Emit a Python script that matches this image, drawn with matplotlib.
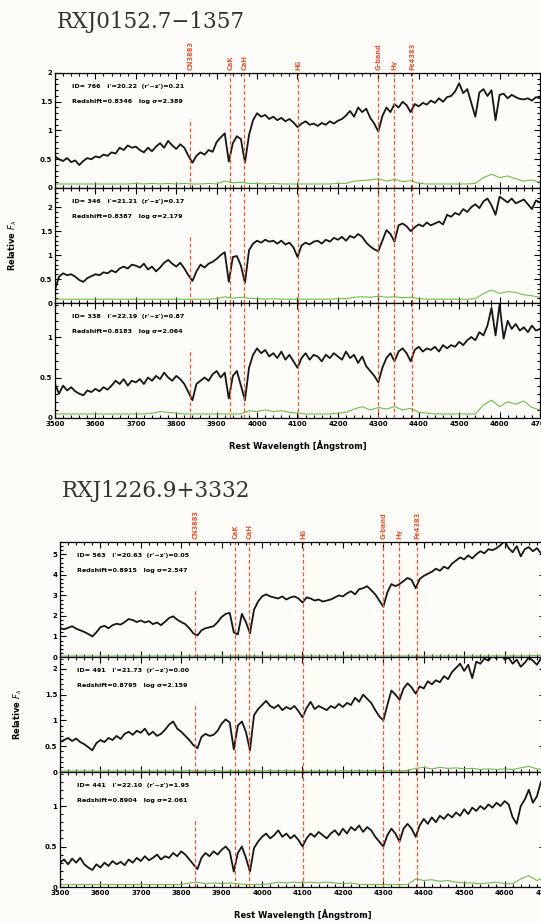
import numpy as np
import matplotlib.pyplot as plt
from matplotlib.ticker import MultipleLocator, AutoMinorLocator, FuncFormatter

# rest-frame sampling of the plotted spectra (Angstrom)
wave = np.arange(3500, 4701, 10)
wave_err = np.arange(3500, 4701, 20)

line_names = ['CN3883', 'CaK', 'CaH', 'Hδ', 'G-band', 'Hγ', 'Fe4383']
line_waves = [3835, 3934, 3968, 4102, 4300, 4340, 4383]

# ---------------- RXJ0152.7-1357 ----------------
flux_766 = [0.55, 0.50, 0.47, 0.52, 0.45, 0.48, 0.40, 0.47, 0.52, 0.50,
            0.55, 0.53, 0.58, 0.56, 0.62, 0.60, 0.70, 0.66, 0.74, 0.70,
            0.72, 0.66, 0.62, 0.70, 0.64, 0.72, 0.78, 0.70, 0.82, 0.74,
            0.68, 0.76, 0.70, 0.56, 0.44, 0.56, 0.62, 0.58, 0.66, 0.63,
            0.80, 0.88, 0.95, 0.46, 0.78, 0.90, 0.85, 0.44, 0.92, 1.18,
            1.30, 1.24, 1.27, 1.20, 1.24, 1.18, 1.22, 1.16, 1.20, 1.14,
            1.06, 1.12, 1.16, 1.10, 1.12, 1.08, 1.13, 1.10, 1.16, 1.12,
            1.17, 1.20, 1.26, 1.34, 1.24, 1.40, 1.32, 1.38, 1.22, 1.12,
            0.98, 1.25, 1.40, 1.32, 1.46, 1.40, 1.50, 1.44, 1.32, 1.46,
            1.42, 1.48, 1.45, 1.52, 1.48, 1.56, 1.50, 1.58, 1.60, 1.68,
            1.82, 1.65, 1.72, 1.48, 1.24, 1.66, 1.72, 1.60, 1.70, 1.18,
            1.62, 1.64, 1.56, 1.62, 1.58, 1.55, 1.54, 1.56, 1.52, 1.58,
            1.56]
err_766 = [0.07, 0.07, 0.07, 0.07, 0.07, 0.07, 0.07, 0.07, 0.07, 0.07,
           0.08, 0.07, 0.08, 0.07, 0.08, 0.07, 0.08, 0.07, 0.07, 0.08,
           0.07, 0.12, 0.09, 0.10, 0.08, 0.08, 0.07, 0.08, 0.07, 0.07,
           0.07, 0.07, 0.07, 0.07, 0.07, 0.08, 0.08, 0.12, 0.13, 0.14,
           0.16, 0.12, 0.15, 0.11, 0.13, 0.08, 0.07, 0.07, 0.07, 0.07,
           0.07, 0.07, 0.08, 0.18, 0.24, 0.18, 0.21, 0.16, 0.12, 0.14,
           0.10]

flux_346 = [0.28, 0.55, 0.62, 0.58, 0.60, 0.55, 0.48, 0.44, 0.52, 0.56,
            0.60, 0.58, 0.64, 0.62, 0.68, 0.64, 0.72, 0.76, 0.72, 0.80,
            0.78, 0.74, 0.82, 0.70, 0.76, 0.66, 0.74, 0.84, 0.90, 0.82,
            0.76, 0.84, 0.72, 0.58, 0.46, 0.66, 0.80, 0.74, 0.82, 0.86,
            0.92, 1.00, 1.06, 0.44, 0.96, 0.98, 0.78, 0.42, 1.10, 1.24,
            1.30, 1.26, 1.32, 1.28, 1.30, 1.24, 1.30, 1.22, 1.26, 1.16,
            0.96, 1.20, 1.26, 1.22, 1.28, 1.30, 1.24, 1.32, 1.28, 1.36,
            1.32, 1.38, 1.30, 1.40, 1.36, 1.44, 1.38, 1.26, 1.18, 1.12,
            1.08, 1.30, 1.52, 1.44, 1.28, 1.62, 1.66, 1.60, 1.50, 1.58,
            1.64, 1.60, 1.68, 1.62, 1.66, 1.70, 1.64, 1.84, 1.80, 1.88,
            1.84, 1.96, 1.90, 2.00, 2.06, 1.98, 2.12, 2.18, 2.04, 1.84,
            2.22, 2.16, 2.10, 2.18, 2.08, 2.12, 2.16, 2.06, 1.96, 2.14,
            2.10]
err_346 = [0.08, 0.08, 0.08, 0.08, 0.08, 0.08, 0.08, 0.08, 0.08, 0.08,
           0.08, 0.08, 0.08, 0.08, 0.08, 0.08, 0.08, 0.08, 0.08, 0.08,
           0.09, 0.13, 0.10, 0.12, 0.10, 0.09, 0.08, 0.09, 0.08, 0.08,
           0.08, 0.08, 0.08, 0.08, 0.08, 0.09, 0.09, 0.12, 0.13, 0.12,
           0.14, 0.12, 0.13, 0.11, 0.12, 0.09, 0.08, 0.08, 0.08, 0.08,
           0.08, 0.08, 0.09, 0.20, 0.27, 0.20, 0.24, 0.22, 0.17, 0.15,
           0.12]

flux_338 = [0.42, 0.30, 0.40, 0.34, 0.38, 0.33, 0.30, 0.28, 0.34, 0.32,
            0.36, 0.33, 0.38, 0.35, 0.40, 0.46, 0.42, 0.48, 0.40, 0.46,
            0.44, 0.48, 0.42, 0.50, 0.46, 0.52, 0.48, 0.56, 0.50, 0.46,
            0.52, 0.48, 0.42, 0.32, 0.22, 0.42, 0.46, 0.50, 0.46, 0.54,
            0.58, 0.50, 0.56, 0.24, 0.52, 0.58, 0.40, 0.22, 0.62, 0.78,
            0.86, 0.80, 0.84, 0.76, 0.80, 0.74, 0.82, 0.72, 0.78, 0.70,
            0.62, 0.74, 0.80, 0.72, 0.78, 0.76, 0.70, 0.78, 0.74, 0.80,
            0.76, 0.72, 0.82, 0.74, 0.78, 0.68, 0.76, 0.64, 0.58, 0.52,
            0.44, 0.62, 0.74, 0.80, 0.70, 0.82, 0.86, 0.80, 0.70, 0.84,
            0.88, 0.82, 0.86, 0.84, 0.88, 0.82, 0.90, 0.86, 0.90, 0.88,
            0.94, 0.90, 0.96, 1.00, 0.96, 1.06, 1.02, 1.14, 1.36, 1.02,
            1.40, 0.98, 1.20, 1.10, 1.16, 1.08, 1.12, 1.06, 1.14, 1.08,
            1.10]
err_338 = [0.05, 0.05, 0.05, 0.05, 0.05, 0.05, 0.05, 0.05, 0.05, 0.05,
           0.05, 0.05, 0.06, 0.08, 0.07, 0.06, 0.05, 0.05, 0.05, 0.05,
           0.05, 0.05, 0.05, 0.05, 0.09, 0.08, 0.10, 0.08, 0.09, 0.07,
           0.06, 0.05, 0.05, 0.05, 0.05, 0.06, 0.07, 0.11, 0.14, 0.10,
           0.13, 0.11, 0.14, 0.10, 0.12, 0.07, 0.06, 0.05, 0.05, 0.05,
           0.05, 0.05, 0.05, 0.16, 0.22, 0.14, 0.20, 0.17, 0.21, 0.13,
           0.10]

# ---------------- RXJ1226.9+3332 ----------------
flux_563 = [1.40, 1.35, 1.42, 1.50, 1.38, 1.30, 1.22, 1.12, 1.00, 1.20,
            1.45, 1.52, 1.40, 1.55, 1.62, 1.58, 1.70, 1.85, 1.80, 1.70,
            1.78, 1.68, 1.75, 1.60, 1.68, 1.55, 1.72, 1.90, 1.98, 1.82,
            1.70, 1.60, 1.40, 1.15, 1.05, 1.30, 1.40, 1.45, 1.50, 1.70,
            1.95, 2.10, 2.15, 1.20, 1.10, 2.10, 1.70, 1.15, 2.30, 2.70,
            2.95, 3.05, 2.95, 2.90, 2.85, 2.95, 2.80, 2.90, 2.95, 2.85,
            2.65, 2.90, 2.85, 2.75, 2.80, 2.70, 2.75, 2.80, 2.90, 3.00,
            2.95, 3.10, 3.20, 3.05, 3.30, 3.35, 3.45, 3.25, 3.05, 2.75,
            2.45, 3.15, 3.55, 3.45, 3.55, 3.70, 3.85, 3.75, 3.35, 3.80,
            3.95, 4.05, 4.15, 4.30, 4.20, 4.40, 4.30, 4.55, 4.70, 4.85,
            4.75, 4.95, 4.80, 5.00, 5.15, 5.05, 5.25, 5.20, 5.30, 5.45,
            5.65, 5.30, 5.10, 5.40, 4.90, 5.25, 5.35, 5.15, 5.30, 5.05,
            5.20]
err_563 = [0.05, 0.05, 0.05, 0.05, 0.05, 0.05, 0.05, 0.05, 0.05, 0.05,
           0.05, 0.05, 0.05, 0.05, 0.05, 0.05, 0.05, 0.05, 0.05, 0.05,
           0.05, 0.05, 0.05, 0.05, 0.05, 0.05, 0.05, 0.05, 0.05, 0.05,
           0.05, 0.05, 0.05, 0.05, 0.05, 0.05, 0.05, 0.05, 0.05, 0.05,
           0.05, 0.05, 0.05, 0.05, 0.05, 0.05, 0.05, 0.05, 0.05, 0.05,
           0.05, 0.05, 0.05, 0.05, 0.06, 0.05, 0.06, 0.05, 0.06, 0.08,
           0.06]

flux_491 = [0.58, 0.62, 0.66, 0.60, 0.65, 0.58, 0.54, 0.48, 0.42, 0.56,
            0.62, 0.58, 0.66, 0.62, 0.70, 0.64, 0.74, 0.78, 0.72, 0.80,
            0.76, 0.84, 0.72, 0.78, 0.70, 0.74, 0.82, 0.92, 0.98, 0.84,
            0.78, 0.70, 0.62, 0.52, 0.46, 0.68, 0.74, 0.70, 0.72, 0.80,
            0.94, 1.02, 0.96, 0.44, 0.90, 0.98, 0.78, 0.42, 1.10, 1.22,
            1.30, 1.38, 1.28, 1.24, 1.30, 1.20, 1.26, 1.22, 1.28, 1.18,
            1.06, 1.24, 1.36, 1.22, 1.28, 1.24, 1.20, 1.28, 1.24, 1.32,
            1.26, 1.34, 1.30, 1.44, 1.36, 1.50, 1.42, 1.34, 1.20, 1.08,
            1.00, 1.30, 1.58, 1.50, 1.40, 1.62, 1.72, 1.64, 1.52, 1.66,
            1.62, 1.76, 1.70, 1.78, 1.74, 1.86, 1.80, 1.94, 2.02, 2.10,
            1.96, 2.08, 1.82, 2.14, 2.10, 2.20, 2.16, 2.26, 2.20, 2.30,
            2.18, 2.22, 2.10, 2.18, 2.04, 2.12, 2.22, 2.16, 2.08, 2.20,
            2.18]
err_491 = [0.02, 0.02, 0.02, 0.02, 0.02, 0.02, 0.02, 0.02, 0.02, 0.02,
           0.02, 0.02, 0.02, 0.02, 0.02, 0.02, 0.03, 0.02, 0.02, 0.03,
           0.02, 0.02, 0.02, 0.02, 0.03, 0.02, 0.03, 0.02, 0.03, 0.02,
           0.02, 0.02, 0.02, 0.02, 0.02, 0.03, 0.02, 0.03, 0.02, 0.03,
           0.02, 0.03, 0.02, 0.03, 0.07, 0.09, 0.06, 0.09, 0.07, 0.08,
           0.06, 0.07, 0.05, 0.06, 0.05, 0.06, 0.05, 0.08, 0.11, 0.06,
           0.05]

flux_441 = [0.30, 0.34, 0.28, 0.35, 0.30, 0.36, 0.28, 0.24, 0.21, 0.28,
            0.24, 0.30, 0.26, 0.32, 0.28, 0.31, 0.27, 0.34, 0.30, 0.36,
            0.32, 0.38, 0.33, 0.36, 0.40, 0.34, 0.38, 0.36, 0.42, 0.38,
            0.44, 0.40, 0.34, 0.28, 0.22, 0.36, 0.42, 0.38, 0.44, 0.40,
            0.46, 0.50, 0.44, 0.19, 0.42, 0.50, 0.36, 0.19, 0.48, 0.56,
            0.62, 0.66, 0.60, 0.64, 0.70, 0.62, 0.66, 0.60, 0.64, 0.58,
            0.50, 0.60, 0.66, 0.62, 0.68, 0.64, 0.60, 0.66, 0.70, 0.64,
            0.72, 0.66, 0.74, 0.70, 0.76, 0.68, 0.74, 0.70, 0.62, 0.56,
            0.50, 0.64, 0.72, 0.66, 0.56, 0.72, 0.78, 0.72, 0.62, 0.76,
            0.84, 0.78, 0.86, 0.80, 0.88, 0.84, 0.90, 0.86, 0.92, 0.88,
            0.96, 0.90, 0.98, 0.94, 1.00, 0.96, 1.02, 0.98, 1.04, 1.00,
            1.06, 1.02, 0.86, 0.78, 1.00, 1.08, 1.20, 1.04, 1.12, 1.30,
            1.20]
err_441 = [0.03, 0.03, 0.03, 0.03, 0.03, 0.03, 0.03, 0.03, 0.03, 0.03,
           0.03, 0.03, 0.03, 0.03, 0.03, 0.03, 0.05, 0.06, 0.04, 0.05,
           0.04, 0.05, 0.04, 0.03, 0.03, 0.03, 0.04, 0.06, 0.05, 0.06,
           0.05, 0.06, 0.05, 0.06, 0.05, 0.04, 0.05, 0.03, 0.03, 0.03,
           0.03, 0.03, 0.03, 0.03, 0.10, 0.08, 0.09, 0.07, 0.08, 0.06,
           0.05, 0.05, 0.04, 0.05, 0.06, 0.04, 0.04, 0.10, 0.14, 0.08,
           0.12]

clusters = [
    {
        'name': 'RXJ0152.7\u22121357',
        'flux': [flux_766, flux_346, flux_338],
        'err': [err_766, err_346, err_338],
        'ymax': [2.0, 2.4, 1.42],
        'yticks': [[0, 0.5, 1, 1.5, 2], [0, 0.5, 1, 1.5, 2], [0, 0.5, 1]],
        'info': [("ID= 766   i'=20.22  (r'\u2212z')=0.21", "Redshift=0.8346   log \u03c3=2.389"),
                 ("ID= 346   i'=21.21  (r'\u2212z')=0.17", "Redshift=0.8387   log \u03c3=2.179"),
                 ("ID= 338   i'=22.19  (r'\u2212z')=0.87", "Redshift=0.8183   log \u03c3=2.064")],
    },
    {
        'name': 'RXJ1226.9+3332',
        'flux': [flux_563, flux_491, flux_441],
        'err': [err_563, err_491, err_441],
        'ymax': [5.6, 2.23, 1.42],
        'yticks': [[0, 1, 2, 3, 4, 5], [0, 0.5, 1, 1.5, 2], [0, 0.5, 1]],
        'info': [("ID= 563   i'=20.63  (r'\u2212z')=0.05", "Redshift=0.8915   log \u03c3=2.547"),
                 ("ID= 491   i'=21.73  (r'\u2212z')=0.00", "Redshift=0.8795   log \u03c3=2.159"),
                 ("ID= 441   i'=22.10  (r'\u2212z')=1.95", "Redshift=0.8904   log \u03c3=2.061")],
    },
]

W, H = 541, 922
BG = '#fdfcf9'
RED = '#e9562f'
GREEN = '#6cbf4a'

fig = plt.figure(figsize=(W / 100, H / 100), dpi=100, facecolor=BG)


def add_px_axes(left, top, width, height):
    return fig.add_axes([left / W, 1 - (top + height) / H, width / W, height / H])


def draw_cluster(c, title_top, axes_left, axes_top):
    panel_h = 115
    width = 485
    fig.text((axes_left + 2) / W, 1 - title_top / H, c['name'], fontsize=15.5,
             family='DejaVu Serif', color='#333333', va='center', ha='left')
    axes = []
    for i in range(3):
        ax = add_px_axes(axes_left, axes_top + i * panel_h, width, panel_h)
        ax.set_facecolor(BG)
        ax.plot(wave_err, c['err'][i], color=GREEN, lw=0.8)
        ax.plot(wave, c['flux'][i], color='#151515', lw=1.3)
        for name, lw_ in zip(line_names, line_waves):
            top_frac = 0.6 if name == 'CN3883' else 1.0
            ax.axvline(lw_, ymin=0, ymax=top_frac, color=RED, ls=(0, (3, 2)), lw=0.9)
        ax.set_xlim(3500, 4700)
        ax.set_ylim(0, c['ymax'][i])
        ax.set_yticks(c['yticks'][i])
        ax.yaxis.set_major_formatter(FuncFormatter(lambda v, p: '%g' % v))
        ax.yaxis.set_minor_locator(AutoMinorLocator(5))
        ax.xaxis.set_major_locator(MultipleLocator(100))
        ax.xaxis.set_minor_locator(MultipleLocator(20))
        ax.tick_params(which='both', direction='in', top=True, right=True,
                       labelsize=5, width=0.8, pad=2)
        ax.tick_params(which='major', length=4)
        ax.tick_params(which='minor', length=2)
        for lab in ax.get_yticklabels() + ax.get_xticklabels():
            lab.set_fontweight('bold')
        for s in ax.spines.values():
            s.set_linewidth(0.9)
        if i < 2:
            ax.tick_params(labelbottom=False)
        l1, l2 = c['info'][i]
        ax.text(0.035, 0.88, l1, transform=ax.transAxes, fontsize=4.6,
                fontweight='bold', va='center')
        ax.text(0.035, 0.75, l2, transform=ax.transAxes, fontsize=4.6,
                fontweight='bold', va='center')
        axes.append(ax)

    # line identifications above the top panel
    for name, lw_ in zip(line_names, line_waves):
        axes[0].text(lw_, 1.03, name, transform=axes[0].get_xaxis_transform(),
                     rotation=90, ha='center', va='bottom', fontsize=4.8,
                     color=RED, fontweight='bold')

    axes[1].set_ylabel('Relative $F_\\lambda$', fontsize=6, fontweight='bold')
    axes[1].yaxis.set_label_coords(-0.074, 0.5)
    axes[2].set_xlabel('Rest Wavelength [\u00c5ngstrom]', fontsize=6, fontweight='bold')
    axes[2].xaxis.label.set_va('center')
    axes[2].xaxis.set_label_coords(0.5, -0.24)


draw_cluster(clusters[0], 22, 55, 73)
draw_cluster(clusters[1], 491, 60, 542)

fig.savefig('out.png', dpi=100, facecolor=BG)
